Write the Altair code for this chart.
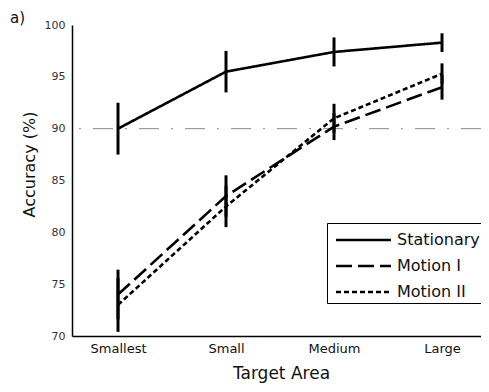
import json
import altair as alt
import pandas as pd

categories = ["Smallest", "Small", "Medium", "Large"]
series = ["Stationary", "Motion I", "Motion II"]
stationary_mean = [90.0, 95.5, 97.4, 98.3]
stationary_err = [2.5, 2.0, 1.4, 0.9]
motion1_mean = [74.0, 83.5, 90.2, 94.0]
motion1_err = [2.4, 2.0, 1.3, 1.2]
motion2_mean = [73.0, 82.5, 91.0, 95.3]
motion2_err = [2.6, 2.0, 1.4, 1.0]
ref_value = [90]

rows = []
for name, means, errs in zip(series, [stationary_mean, motion1_mean, motion2_mean],
                             [stationary_err, motion1_err, motion2_err]):
    for i, (c, m, e) in enumerate(zip(categories, means, errs)):
        rows.append({"series": name, "idx": i + 1, "cat": c, "mean": m,
                     "lo": m - e, "hi": m + e})
df = pd.DataFrame(rows)

W, H = 409, 311
FONT = "DejaVu Sans"

xscale = alt.Scale(domain=[0.574, 4.361], nice=False, zero=False)
yscale = alt.Scale(domain=[70, 100], nice=False, zero=False)
label_expr = json.dumps(categories) + "[datum.value - 1]"

dash_scale = alt.Scale(domain=series, range=[[1, 0], [16, 6], [5, 3]])

base = alt.Chart(df)

refline = alt.Chart(pd.DataFrame({"v": ref_value})).mark_rule(
    color="#8a8a8a", strokeWidth=1, strokeDash=[20, 12, 2, 12]
).encode(y=alt.Y("v:Q", scale=yscale))

lines = base.mark_line(color="black", strokeWidth=2.6).encode(
    x=alt.X("idx:Q", scale=xscale,
            axis=alt.Axis(values=[1, 2, 3, 4], labelExpr=label_expr, grid=False,
                          ticks=False, domainColor="black", domainWidth=1.5,
                          labelFontSize=13, labelFont=FONT, labelColor="#111",
                          labelPadding=6, title="Target Area", titleFontSize=17,
                          titleFont=FONT, titleFontWeight="normal", titleColor="#111",
                          titlePadding=10, titleX=209)),
    y=alt.Y("mean:Q", scale=yscale,
            axis=alt.Axis(values=[70, 75, 80, 85, 90, 95, 100], grid=False, ticks=False,
                          domainColor="black", domainWidth=1.5, labelFontSize=11,
                          labelFont=FONT, labelColor="#333", labelPadding=7,
                          title="Accuracy (%)", titleFontSize=16, titleFont=FONT,
                          titleFontWeight="normal", titleColor="#111",
                          titleX=-43, titleY=139, titleBaseline="middle",
                          titleAlign="center", titleAngle=270)),
    strokeDash=alt.StrokeDash("series:N", scale=dash_scale, sort=series,
                              legend=alt.Legend(title=None, orient="none",
                                                legendX=255, legendY=198)),
    detail="series:N",
)

errs = base.mark_rule(color="black", strokeWidth=3).encode(
    x=alt.X("idx:Q", scale=xscale),
    y=alt.Y("lo:Q", scale=yscale),
    y2="hi:Q",
)

label = alt.Chart(pd.DataFrame({"t": ["a)"]})).mark_text(
    align="left", baseline="alphabetic", fontSize=15, font=FONT, color="#111"
).encode(x=alt.value(-62), y=alt.value(-2), text="t:N")

chart = alt.layer(refline, lines, errs, label).properties(
    width=W, height=H,
    autosize=alt.AutoSizeParams(type="none"),
    padding={"left": 64, "top": 17, "right": 0, "bottom": 48},
).configure_view(stroke=None).configure_legend(
    symbolType="M-2.2,0H2.2", symbolSize=625, symbolStrokeWidth=2.6,
    symbolStrokeColor="black", strokeColor="black", fillColor="white",
    padding=3, rowPadding=4, labelFontSize=16, labelFont=FONT, labelColor="#111",
    cornerRadius=0, symbolOffset=19.5, labelOffset=19.5,
)

chart.save("out.html", embed_options={"renderer": "svg", "actions": False})
